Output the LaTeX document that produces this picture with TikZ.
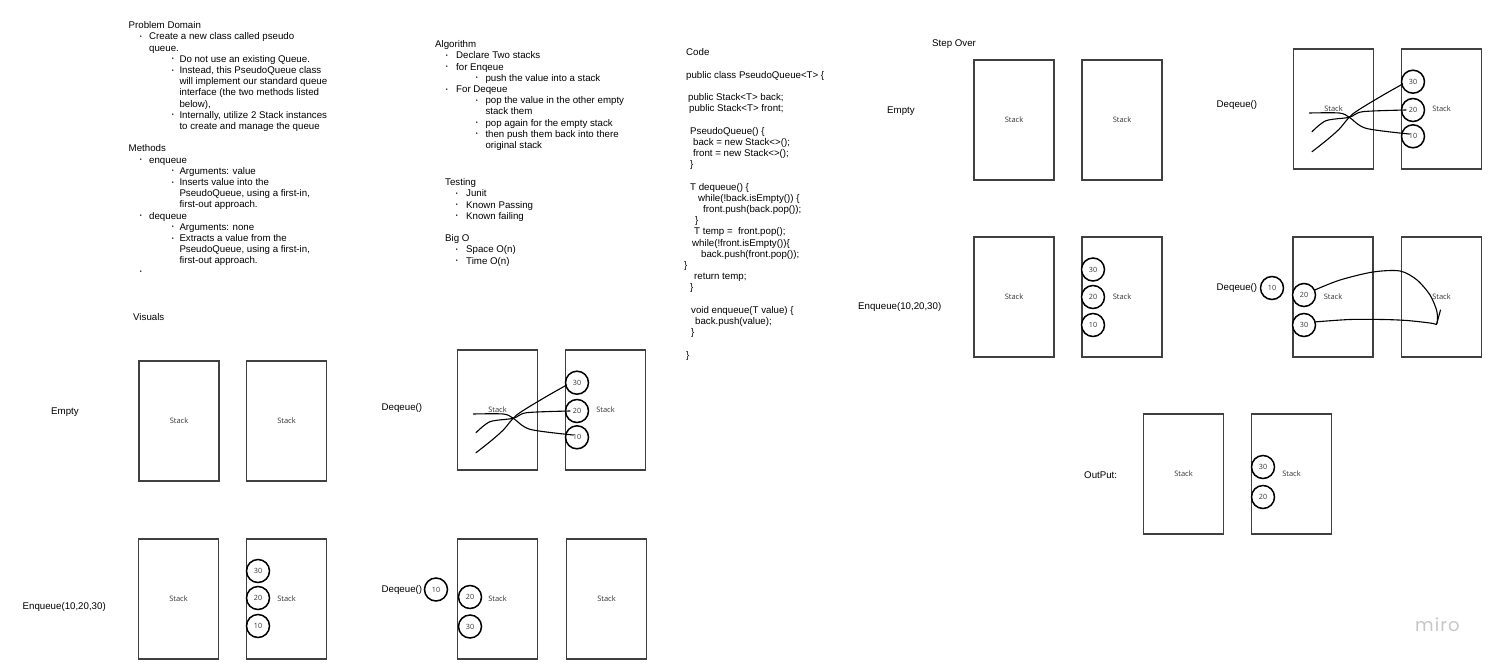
\documentclass[tikz,border=0pt]{standalone}
\usepackage{fontspec}
\setmainfont{Liberation Sans}
\newfontfamily\stackfont{Open Sans}
\newfontfamily\mirofont[LetterSpace=6]{Poppins}
\newcommand\mystrut{\rule{0pt}{8pt}}
\newcommand\bl[2]{\hspace*{#1pt}\llap{\raisebox{1.4pt}{\fontsize{5.5}{5.5}\selectfont •}\hspace*{#2pt}}}
\newcommand\ind[1]{\hspace*{#1pt}}
\tikzset{
 stackbox/.style={draw=black!75, line width=1.2pt, minimum width=80pt, minimum height=120pt, inner sep=0pt, font=\stackfont\fontsize{7.5}{9}\selectfont, text=black!80},
 num/.style={circle, draw=black, line width=1.5pt, fill=white, minimum size=23pt, inner sep=0pt, font=\stackfont\fontsize{7.2}{8}\selectfont, text=black!80},
 hand/.style={line width=1.1pt, black, line cap=round, line join=round},
 lbl/.style={anchor=base west, inner sep=0pt, font=\fontsize{9.7}{11.2}\selectfont},
 blk/.style={anchor=north west, inner sep=0pt, align=left, font=\fontsize{9.7}{11.2}\selectfont},
 deqfig/.pic={
  \node[stackbox] (L) at (40.5,60) {Stack};
  \node[stackbox] (R) at (148.5,60) {Stack};
  \node[num] (c30) at (120,32.7) {30};
  \node[num] (c20) at (120,61) {20};
  \node[num] (c10) at (120,87.3) {10};
  \draw[hand] plot[smooth] coordinates {(16.3,64) (46.3,64) (56.3,68.3) (73,79.3) (116.3,85)};
  \draw[hand] plot[smooth] coordinates {(19,82.7) (33,71.7) (56.3,68.3) (69.7,62.7) (113,61)};
  \draw[hand] plot[smooth] coordinates {(19,102.7) (33,91.7) (46.3,80) (59.7,65) (86.3,48.3) (109.7,35)};
 }
}
\begin{document}
\begin{tikzpicture}[x=1pt,y=-1pt]
\useasboundingbox[fill=white] (0,0) rectangle (1498,667);

% ---------- text blocks ----------
\node[blk] (pd) at (128.5,20.5) {\mystrut Problem Domain\\%
\bl{20.5}{7.5}Create a new class called pseudo\\%
\ind{20.5}queue.\\%
\bl{50.8}{5.8}Do not use an existing Queue.\\%
\bl{50.8}{5.8}Instead, this PseudoQueue class\\%
\ind{50.8}will implement our standard queue\\%
\ind{50.8}interface (the two methods listed\\%
\ind{50.8}below),\\%
\bl{50.8}{5.8}Internally, utilize 2 Stack instances\\%
\ind{50.8}to create and manage the queue\\[11.2pt]%
Methods\\%
\bl{20.5}{7.5}enqueue\\%
\bl{50.8}{5.8}Arguments: value\\%
\bl{50.8}{5.8}Inserts value into the\\%
\ind{50.8}PseudoQueue, using a first-in,\\%
\ind{50.8}first-out approach.\\%
\bl{20.5}{7.5}dequeue\\%
\bl{50.8}{5.8}Arguments: none\\%
\bl{50.8}{5.8}Extracts a value from the\\%
\ind{50.8}PseudoQueue, using a first-in,\\%
\ind{50.8}first-out approach.\\%
\bl{20.5}{7.5}\mbox{}};

\node[blk] (alg) at (435,39.5) {\mystrut Algorithm\\%
\bl{21}{8.5}Declare Two stacks\\%
\bl{21}{8.5}for Enqeue\\%
\bl{50.3}{7.8}push the value into a stack\\%
\bl{21}{8.5}For Deqeue\\%
\bl{50.3}{7.8}pop the value in the other empty\\%
\ind{50.3}stack them\\%
\bl{50.3}{7.8}pop again for the empty stack\\%
\bl{50.3}{7.8}then push them back into there\\%
\ind{50.3}original stack};

\node[blk] (test) at (445,177.5) {\mystrut Testing\\%
\bl{21}{8.5}Junit\\%
\bl{21}{8.5}Known Passing\\%
\bl{21}{8.5}Known failing\\[11.2pt]%
Big O\\%
\bl{21}{8.5}Space O(n)\\%
\bl{21}{8.5}Time O(n)};

\node[blk] (code) at (686,47.5) {\mystrut Code\\[11.2pt]%
public class PseudoQueue<T> \{\\[11.2pt]%
\ind{2}public Stack<T> back;\\%
\ind{3}public Stack<T> front;\\[11.2pt]%
\ind{4}PseudoQueue() \{\\%
\ind{7}back = new Stack<>();\\%
\ind{7}front = new Stack<>();\\%
\ind{4}\}\\[11.2pt]%
\ind{4}T dequeue() \{\\%
\ind{12}while(!back.isEmpty()) \{\\%
\ind{17}front.push(back.pop());\\%
\ind{9}\}\\%
\ind{8}T temp = \ front.pop();\\%
\ind{6}while(!front.isEmpty())\{\\%
\ind{15}back.push(front.pop());\\%
\ind{-2}\}\\%
\ind{8}return temp;\\%
\ind{4}\}\\[11.2pt]%
\ind{5}void enqueue(T value) \{\\%
\ind{9}back.push(value);\\%
\ind{5}\}\\[11.2pt]%
\}};

% ---------- labels ----------
\node[lbl] (visuals) at (133,320.5) {Visuals};
\node[lbl] (vempty) at (51,414) {Empty};
\node[lbl] (venq) at (22.5,609.5) {Enqueue(10,20,30)};
\node[lbl] (mdeq1) at (381.5,410.5) {Deqeue()};
\node[lbl] (mdeq2) at (381.5,592.5) {Deqeue()};
\node[lbl] (stepover) at (932,46.5) {Step Over};
\node[lbl] (sempty) at (887,113.5) {Empty};
\node[lbl] (senq) at (858,309.5) {Enqueue(10,20,30)};
\node[lbl] (rdeq1) at (1216.5,107.5) {Deqeue()};
\node[lbl] (rdeq2) at (1216.5,290.5) {Deqeue()};
\node[lbl] (outp) at (1084,478.5) {OutPut:};

% ---------- Visuals: empty ----------
\node[stackbox] (ve1) at (179,421) {Stack};
\node[stackbox] (ve2) at (286.5,421) {Stack};
% ---------- Visuals: enqueue ----------
\node[stackbox] (vq1) at (178.5,599) {Stack};
\node[stackbox] (vq2) at (286.5,599) {Stack};
\node[num] (vq30) at (258,571) {30};
\node[num] (vq20) at (258,598) {20};
\node[num] (vq10) at (258,626) {10};

% ---------- middle: dequeue ----------
\pic (dqa) at (457,350) {deqfig};
\node[stackbox] (mb1) at (497.5,599) {Stack};
\node[stackbox] (mb2) at (606.5,599) {Stack};
\node[num] (mb20) at (470,597) {20};
\node[num] (mb30) at (470,626.5) {30};
\node[num] (mb10) at (436,589.5) {10};

% ---------- step over ----------
\node[stackbox] (se1) at (1014,120) {Stack};
\node[stackbox] (se2) at (1122,120) {Stack};
\node[stackbox] (sq1) at (1014,297) {Stack};
\node[stackbox] (sq2) at (1122,297) {Stack};
\node[num] (sq30) at (1093,269.5) {30};
\node[num] (sq20) at (1093,297) {20};
\node[num] (sq10) at (1093,325) {10};

\pic (dqb) at (1293,49) {deqfig};

\node[stackbox] (rm1) at (1333,297) {Stack};
\node[stackbox] (rm2) at (1441.5,297) {Stack};
\node[num] (rm20) at (1304,295) {20};
\node[num] (rm30) at (1304,325) {30};
\node[num] (rm10) at (1272,288) {10};
\draw[hand] plot[smooth] coordinates {(rm20.25) (1340,280) (1373,272) (1400,271) (1417,280) (1430,295) (1436.5,310) (1437.5,320) (1436.5,324)};
\coordinate (tip) at (1436.5,324.5);
\draw[hand] (tip) -- (1440.5,310);
\draw[hand] plot[smooth] coordinates {(rm30.15) (1350,319.5) (1383,319.5) (1407,320.5) (1430,323) (tip)};

% ---------- output ----------
\node[stackbox] (o1) at (1183.5,474) {Stack};
\node[stackbox] (o2) at (1291.5,474) {Stack};
\node[num] (o30) at (1263,467) {30};
\node[num] (o20) at (1263,497) {20};

% ---------- miro ----------
\node[anchor=base west, inner sep=0pt, text=black!22, font=\mirofont\fontsize{18}{18}\selectfont] (miro) at (1415,631.5) {miro};
\end{tikzpicture}
\end{document}
